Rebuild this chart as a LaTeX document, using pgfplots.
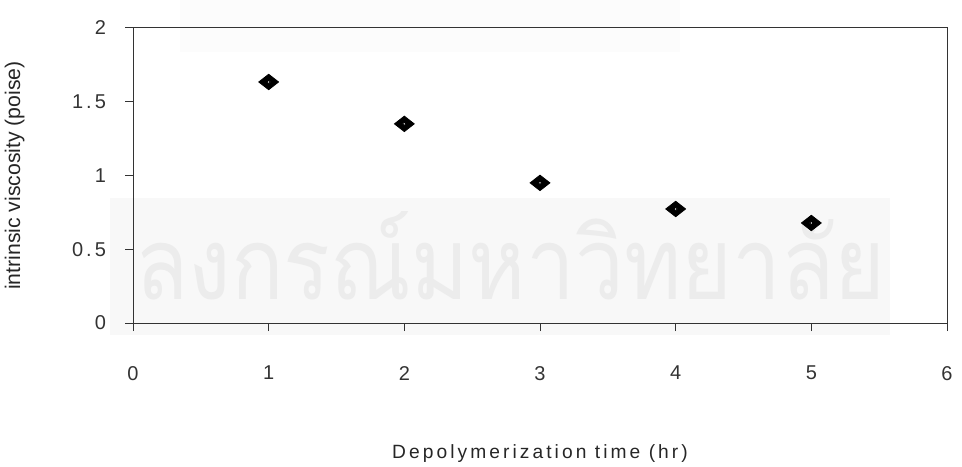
\documentclass[border=0pt]{standalone}
\usepackage{pgfplots}
\pgfplotsset{compat=1.18}
\usepackage{fontspec}
\setmainfont{Liberation Sans}
\newfontfamily\tickfont[LetterSpace=15]{Liberation Sans}
\newfontfamily\labfont[LetterSpace=16]{Liberation Sans}
\newfontfamily\thaifont[Script=Thai]{Loma}
\definecolor{axcol}{HTML}{333333}
\definecolor{wmband}{HTML}{F8F8F8}
\definecolor{wmtext}{HTML}{ECECEC}
\begin{document}
\begin{tikzpicture}
\useasboundingbox (0,0) rectangle (481pt,233pt);
% faint scan watermark
\fill[wmband] (55pt,65.5pt) rectangle (445pt,134pt);
\fill[wmband!45!white] (90pt,207pt) rectangle (340pt,233pt);
\node[anchor=south west, inner sep=0pt, text=wmtext] at (67.5pt,83pt)
  {\resizebox{375pt}{44pt}{\thaifont ลงกรณ์มหาวิทยาลัย}};
\begin{axis}[
  at={(66.5pt,71.5pt)}, anchor=south west,
  scale only axis, width=407pt, height=147.5pt,
  xmin=0, xmax=6, ymin=0, ymax=2,
  xtick={0,1,2,3,4,5,6}, ytick={0,0.5,1,1.5,2},
  tick pos=left, tick align=outside,
  major tick length=4pt,
  axis line style={axcol, line width=0.5pt},
  every tick/.style={axcol, line width=0.5pt},
  /pgf/number format/assume math mode=true,
  ticklabel style={font=\tickfont\fontsize{10}{12}\selectfont, text=black!80},
  yticklabel style={xshift=-6pt},
  xticklabel style={yshift=-14pt},
  xlabel={Depolymerization time (hr)},
  ylabel={intrinsic viscosity (poise)},
  every axis x label/.style={at={(axis description cs:0.5,-0.444)}, anchor=center,
     font=\labfont\fontsize{9.6}{11}\selectfont, text=black!85},
  every axis y label/.style={at={(axis description cs:-0.1453,0.5)}, anchor=center, rotate=90,
     font=\fontsize{10.6}{12}\selectfont, text=black!85},
  clip=false,
]
\addplot[only marks, mark=square*, mark size=3.5pt,
  mark options={fill=black, draw=black, yscale=0.78, rotate=45}]
  coordinates {(1,1.634) (2,1.35) (3,0.95) (4,0.773) (5,0.678)};
\addplot[only marks, mark=*, mark size=0.8pt, mark options={fill=white, draw=none}]
  coordinates {(1,1.634) (2,1.35) (3,0.95) (4,0.773) (5,0.678)};
\end{axis}
\end{tikzpicture}
\end{document}
